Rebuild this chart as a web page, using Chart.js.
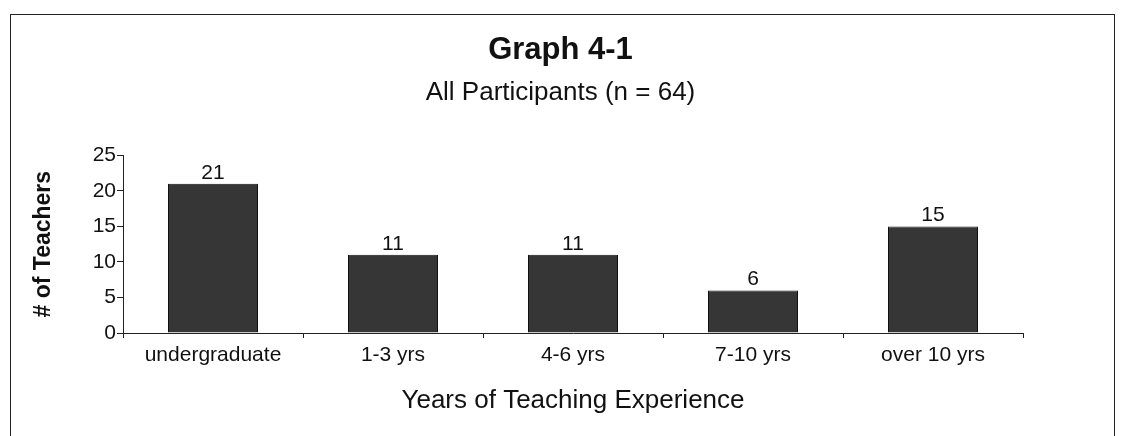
<!DOCTYPE html>
<html lang="en">
<head>
    <meta charset="UTF-8" />
    <script src="https://cdn.jsdelivr.net/npm/chart.js"></script>
    <title>Graph 4-1</title>
    <style>
        body { margin: 0; background: #fff; }
        #graph { display: block; }
    </style>
</head>
<body>
    <canvas id="graph" width="1121" height="436"></canvas>
<script>
// dados do grafico
var categorias = ["undergraduate", "1-3 yrs", "4-6 yrs", "7-10 yrs", "over 10 yrs"];
var professores = [21, 11, 11, 6, 15];
var ticksY = [0, 5, 10, 15, 20, 25];

var fonte = "'Liberation Sans', Arial, sans-serif";

// moldura em volta do grafico
const moldura = {
    id: "moldura",
    beforeDraw(chart) {
        const ctx = chart.ctx;
        ctx.save();
        ctx.strokeStyle = "#222";
        ctx.lineWidth = 1;
        ctx.strokeRect(10.5, 14.5, 1104, 440);
        ctx.restore();
    }
};

// numeros em cima das barras
const rotulos = {
    id: "rotulos",
    afterDatasetsDraw(chart) {
        const ctx = chart.ctx;
        const meta = chart.getDatasetMeta(0);
        ctx.save();
        ctx.fillStyle = "#111";
        ctx.font = "21px " + fonte;
        ctx.textAlign = "center";
        ctx.textBaseline = "alphabetic";
        meta.data.forEach(function (barra, i) {
            ctx.fillText(professores[i], barra.x, barra.y - 5);
        });
        ctx.restore();
    }
};

const ctx = document.getElementById("graph");

var chart = new Chart(ctx, {
    type: "bar",
    data: {
        labels: categorias,
        datasets: [
            {
                label: "# of Teachers",
                data: professores,
                backgroundColor: "#363636",
                borderColor: "#111",
                borderWidth: 1,
                barPercentage: 0.5,
                categoryPercentage: 1.0,
            },
        ],
    },
    options: {
        responsive: false,
        animation: false,
        layout: {
            padding: { left: 30, right: 30, top: 32, bottom: 20 },
        },
        plugins: {
            legend: { display: false },
            tooltip: { enabled: false },
            title: {
                display: true,
                text: "Graph 4-1",
                color: "#111",
                font: { family: fonte, size: 31, weight: "bold" },
                padding: { top: 0, bottom: 2 },
            },
            subtitle: {
                display: true,
                text: "All Participants (n = 64)",
                color: "#111",
                font: { family: fonte, size: 26 },
                padding: { top: 6, bottom: 47 },
            },
        },
        scales: {
            x: {
                afterFit: function (scale) { scale.height = 83; },
                grid: {
                    offset: true,
                    drawOnChartArea: false,
                    drawTicks: true,
                    tickLength: 5,
                    color: "#222",
                },
                border: { color: "#222", width: 1 },
                ticks: {
                    color: "#111",
                    font: { family: fonte, size: 21 },
                    maxRotation: 0,
                    padding: 5,
                },
                title: {
                    display: true,
                    text: "Years of Teaching Experience",
                    color: "#111",
                    font: { family: fonte, size: 26 },
                    padding: { top: 0, bottom: 0 },
                },
            },
            y: {
                min: 0,
                max: 25,
                afterFit: function (scale) { scale.width = 93; },
                afterBuildTicks: function (scale) {
                    scale.ticks = ticksY.map(function (v) { return { value: v }; });
                },
                grid: {
                    drawOnChartArea: false,
                    drawTicks: true,
                    tickLength: 6,
                    color: "#222",
                },
                border: { color: "#222", width: 1 },
                ticks: {
                    color: "#111",
                    font: { family: fonte, size: 21 },
                    padding: 1,
                },
                title: {
                    display: true,
                    text: "# of Teachers",
                    color: "#111",
                    font: { family: fonte, size: 23, weight: "bold" },
                    padding: 0,
                },
            },
            // eixo vazio so para reservar a margem direita
            direita: {
                type: "linear",
                position: "right",
                afterFit: function (scale) { scale.width = 68; },
                grid: { display: false },
                border: { display: false },
                ticks: { display: false },
            },
        },
    },
    plugins: [moldura, rotulos],
});
</script>
</body>
</html>
